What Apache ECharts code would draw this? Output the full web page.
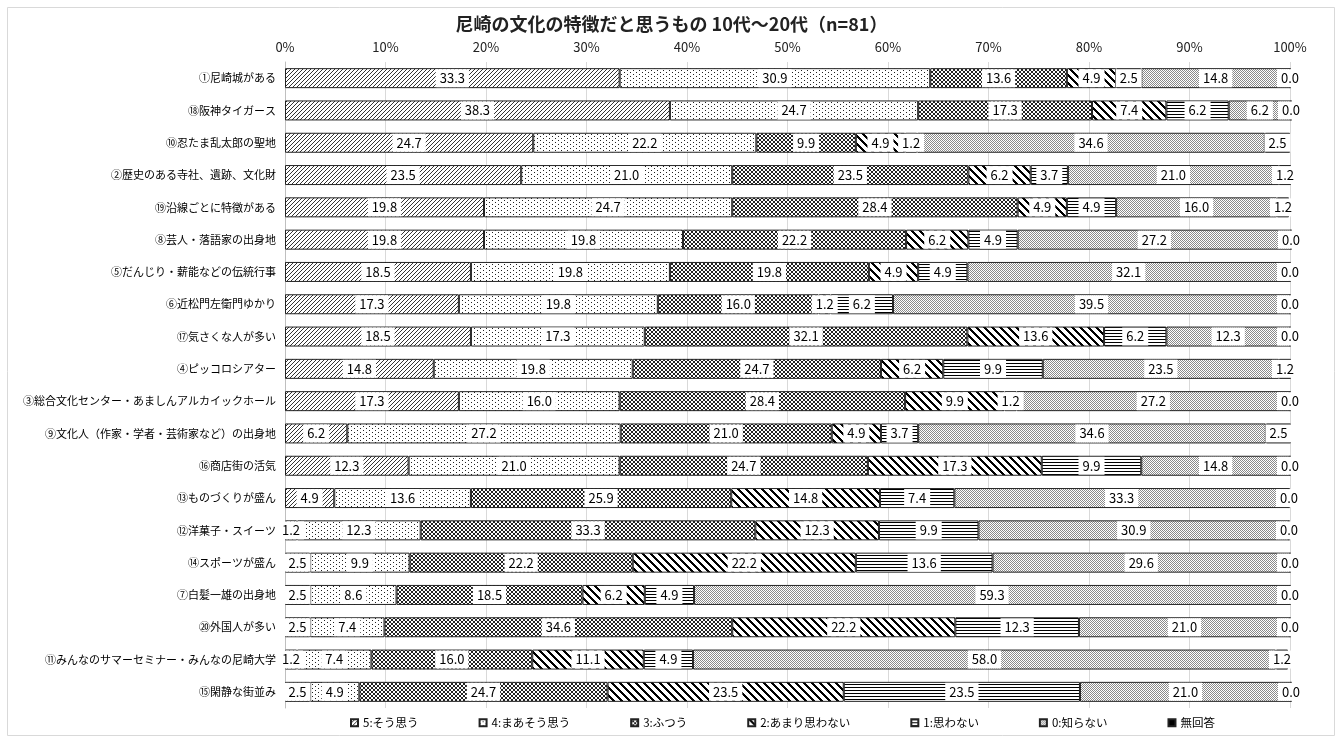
<!DOCTYPE html>
<html>
<head>
<meta charset="utf-8">
<script src="https://cdn.jsdelivr.net/npm/echarts@6/dist/echarts.min.js"></script>
<style>
  html, body { margin: 0; padding: 0; background: #fff; }
  #chart { width: 1343px; height: 742px; }
</style>
</head>
<body>
<div id="chart"></div>
<script>
// Survey items (top to bottom)
const categories = [
  '①尼崎城がある',
  '⑱阪神タイガース',
  '⑩忍たま乱太郎の聖地',
  '②歴史のある寺社、遺跡、文化財',
  '⑲沿線ごとに特徴がある',
  '⑧芸人・落語家の出身地',
  '⑤だんじり・薪能などの伝統行事',
  '⑥近松門左衛門ゆかり',
  '⑰気さくな人が多い',
  '④ピッコロシアター',
  '③総合文化センター・あましんアルカイックホール',
  '⑨文化人（作家・学者・芸術家など）の出身地',
  '⑯商店街の活気',
  '⑬ものづくりが盛ん',
  '⑫洋菓子・スイーツ',
  '⑭スポーツが盛ん',
  '⑦白髪一雄の出身地',
  '⑳外国人が多い',
  '⑪みんなのサマーセミナー・みんなの尼崎大学',
  '⑮閑静な街並み'
];

// Answer shares (%) per item
const agree5    = [33.3, 38.3, 24.7, 23.5, 19.8, 19.8, 18.5, 17.3, 18.5, 14.8, 17.3, 6.2, 12.3, 4.9, 1.2, 2.5, 2.5, 2.5, 1.2, 2.5];
const agree4    = [30.9, 24.7, 22.2, 21.0, 24.7, 19.8, 19.8, 19.8, 17.3, 19.8, 16.0, 27.2, 21.0, 13.6, 12.3, 9.9, 8.6, 7.4, 7.4, 4.9];
const neutral3  = [13.6, 17.3, 9.9, 23.5, 28.4, 22.2, 19.8, 16.0, 32.1, 24.7, 28.4, 21.0, 24.7, 25.9, 33.3, 22.2, 18.5, 34.6, 16.0, 24.7];
const disagree2 = [4.9, 7.4, 4.9, 6.2, 4.9, 6.2, 4.9, 1.2, 13.6, 6.2, 9.9, 4.9, 17.3, 14.8, 12.3, 22.2, 6.2, 22.2, 11.1, 23.5];
const disagree1 = [2.5, 6.2, 1.2, 3.7, 4.9, 4.9, 4.9, 6.2, 6.2, 9.9, 1.2, 3.7, 9.9, 7.4, 9.9, 13.6, 4.9, 12.3, 4.9, 23.5];
const unknown0  = [14.8, 6.2, 34.6, 21.0, 16.0, 27.2, 32.1, 39.5, 12.3, 23.5, 27.2, 34.6, 14.8, 33.3, 30.9, 29.6, 59.3, 21.0, 58.0, 21.0];
const noAnswer  = [0.0, 0.0, 2.5, 1.2, 1.2, 0.0, 0.0, 0.0, 0.0, 1.2, 0.0, 2.5, 0.0, 0.0, 0.0, 0.0, 0.0, 0.0, 1.2, 0.0];

const seriesNames = ['5:そう思う', '4:まあそう思う', '3:ふつう', '2:あまり思わない', '1:思わない', '0:知らない', '無回答'];
const seriesData = [agree5, agree4, neutral3, disagree2, disagree1, unknown0, noAnswer];

// Monochrome fill patterns drawn pixel by pixel into small tiles
function tile(w, h, ink, pixels) {
  const c = document.createElement('canvas');
  c.width = w; c.height = h;
  const ctx = c.getContext('2d');
  ctx.fillStyle = '#fff';
  ctx.fillRect(0, 0, w, h);
  ctx.fillStyle = ink;
  pixels(function (x, y) { ctx.fillRect(((x % w) + w) % w, ((y % h) + h) % h, 1, 1); });
  return { image: c, repeat: 'repeat' };
}

const fills = [
  // fine upward diagonal
  tile(4, 4, '#333', function (p) { for (let i = 0; i < 4; i++) p(i, 3 - i); }),
  // sparse dots
  tile(6, 4, '#222', function (p) { p(0, 0); p(3, 2); }),
  // diagonal crosshatch
  tile(4, 4, '#222', function (p) { for (let i = 0; i < 4; i++) { p(i, i); p(i, 3 - i); } }),
  // wide downward diagonal
  tile(8, 8, '#000', function (p) { for (let y = 0; y < 8; y++) for (let k = 0; k < 3; k++) p(y + k, y); }),
  // horizontal lines
  tile(4, 3, '#000', function (p) { for (let x = 0; x < 4; x++) p(x, 0); }),
  // fine gray stipple
  tile(4, 2, '#8a8a8a', function (p) { p(0, 0); p(2, 0); p(1, 1); p(3, 1); }),
  // solid
  '#000'
];

const labelFont = "'Noto Sans CJK JP', 'Noto Sans', sans-serif";

const series = seriesNames.map(function (name, i) {
  return {
    name: name,
    type: 'bar',
    stack: 'total',
    barWidth: 20,
    clip: false,
    data: seriesData[i],
    itemStyle: { color: fills[i], borderColor: '#222', borderWidth: 1 },
    label: {
      show: true,
      position: 'inside',
      formatter: function (p) { return p.value.toFixed(1); },
      color: '#000',
      fontSize: 13,
      fontFamily: labelFont,
      backgroundColor: '#fff',
      padding: [3, 4, 2, 4]
    },
    emphasis: { disabled: true }
  };
});

const chart = echarts.init(document.getElementById('chart'), null, { renderer: 'canvas' });
chart.setOption({
  animation: false,
  backgroundColor: '#fff',
  textStyle: { fontFamily: labelFont },
  title: {
    text: '尼崎の文化の特徴だと思うもの 10代～20代（n=81）',
    left: 'center',
    top: 10,
    textStyle: { fontSize: 18, fontWeight: 'bold', color: '#222', fontFamily: labelFont }
  },
  graphic: [{
    type: 'rect',
    shape: { x: 7.5, y: 7.5, width: 1327, height: 728 },
    style: { fill: 'none', stroke: '#d9d9d9', lineWidth: 1 },
    silent: true,
    z: -1
  }],
  grid: { left: 285, right: 53, top: 62, height: 646, containLabel: false },
  xAxis: {
    type: 'value',
    position: 'top',
    min: 0,
    max: 100,
    interval: 10,
    axisLabel: { formatter: '{value}%', fontSize: 13, color: '#222', margin: 8 },
    axisLine: { show: false },
    axisTick: { show: false },
    splitLine: { show: true, lineStyle: { color: '#d9d9d9', width: 1 } }
  },
  yAxis: {
    type: 'category',
    inverse: true,
    data: categories,
    axisLabel: { fontSize: 11, color: '#000', margin: 9 },
    axisLine: { show: true, lineStyle: { color: '#bfbfbf' } },
    axisTick: { show: false }
  },
  legend: {
    top: 712,
    left: 345,
    itemWidth: 7,
    itemHeight: 7,
    itemGap: 60,
    icon: 'rect',
    textStyle: { fontSize: 11.5, color: '#000', fontFamily: labelFont },
    data: seriesNames
  },
  series: series
});
</script>
</body>
</html>
